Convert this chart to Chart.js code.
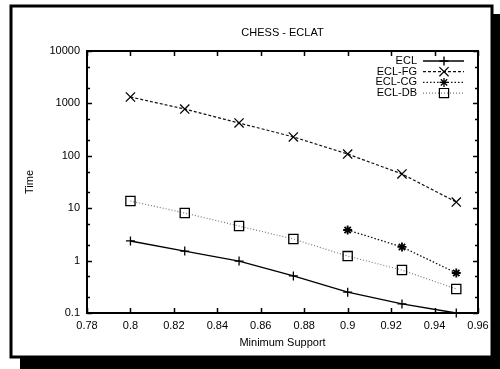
<!DOCTYPE html>
<html><head><meta charset="utf-8">
<script src="https://cdn.jsdelivr.net/npm/chart.js@4.4.1/dist/chart.umd.min.js"></script>
<style>html,body{margin:0;padding:0;background:#fff}canvas{display:block}</style>
</head><body>
<canvas id="c" width="500" height="369"></canvas>
<script>
// Minimum support levels on the x axis
const supports = [0.8, 0.825, 0.85, 0.875, 0.9, 0.925, 0.95];
// Running times (log scale) per variant
const ecl   = [2.37, 1.52, 0.98, 0.51, 0.25, 0.149, 0.1];
const eclFG = [1325, 781, 423, 229, 108, 45, 13.1];
const eclCG = [null, null, null, null, 3.84, 1.82, 0.58];
const eclDB = [13.7, 8.1, 4.57, 2.58, 1.22, 0.66, 0.287];
const seriesNames = ['ECL', 'ECL-FG', 'ECL-CG', 'ECL-DB'];

const xTickValues = [0.78, 0.8, 0.82, 0.84, 0.86, 0.88, 0.9, 0.92, 0.94, 0.96];
const xTickLabels = ['0.78', '0.8', '0.82', '0.84', '0.86', '0.88', '0.9', '0.92', '0.94', '0.96'];
const yTickValues = [0.1, 1, 10, 100, 1000, 10000];
const yTickLabels = ['0.1', '1', '10', '100', '1000', '10000'];
const yMinorSteps = [2, 5];

const FONT = '11px "Liberation Sans", Arial, sans-serif';

function points(vals) {
  const out = [];
  vals.forEach((v, i) => { if (v !== null) out.push({x: supports[i], y: v}); });
  return out;
}

const styles = [
  {color: '#000', dash: [], width: 1.4, point: 'cross', radius: 4.5, pw: 1.3},
  {color: '#111', dash: [3, 2], width: 1.2, point: 'crossRot', radius: 6.5, pw: 1.3},
  {color: '#111', dash: [1.5, 2], width: 1.3, point: 'star', radius: 4.5, pw: 1.8},
  {color: '#777', dash: [1, 2], width: 1.2, point: 'rect', radius: 6.5, pw: 1.3}
];
const allSeries = [ecl, eclFG, eclCG, eclDB];

const datasets = allSeries.map((vals, i) => ({
  label: seriesNames[i],
  data: points(vals),
  borderColor: styles[i].color,
  borderWidth: styles[i].width,
  borderDash: styles[i].dash,
  pointStyle: styles[i].point,
  pointRadius: styles[i].radius,
  pointBorderColor: '#000',
  pointBorderWidth: styles[i].pw,
  pointBackgroundColor: 'rgba(0,0,0,0)',
  fill: false,
  tension: 0,
  clip: 12
}));

const framePlugin = {
  id: 'frame',
  beforeDraw(chart) {
    const ctx = chart.ctx;
    ctx.save();
    ctx.fillStyle = '#fff';
    ctx.fillRect(0, 0, 500, 369);
    // drop shadow
    ctx.fillStyle = '#000';
    ctx.fillRect(20, 357, 480, 12);
    ctx.fillRect(492, 14, 8, 355);
    // frame
    ctx.strokeStyle = '#000';
    ctx.lineWidth = 3;
    ctx.strokeRect(11, 6, 481, 351);
    ctx.restore();
  },
  beforeDatasetsDraw(chart) {
    const ctx = chart.ctx;
    const {left, right, top, bottom} = chart.chartArea;
    const xs = chart.scales.x, ys = chart.scales.y;
    ctx.save();
    ctx.strokeStyle = '#000';
    ctx.lineWidth = 1.5;
    ctx.beginPath();
    // x major ticks, bottom and top
    xTickValues.forEach(v => {
      const px = Math.round(xs.getPixelForValue(v)) + 0.5;
      ctx.moveTo(px, bottom); ctx.lineTo(px, bottom - 5);
      ctx.moveTo(px, top); ctx.lineTo(px, top + 5);
    });
    // y major and minor ticks, left and right
    yTickValues.forEach(v => {
      const py = Math.round(ys.getPixelForValue(v)) + 0.5;
      ctx.moveTo(left, py); ctx.lineTo(left + 5, py);
      ctx.moveTo(right, py); ctx.lineTo(right - 5, py);
      if (v < 10000) {
        yMinorSteps.forEach(m => {
          const my = Math.round(ys.getPixelForValue(v * m)) + 0.5;
          ctx.moveTo(left, my); ctx.lineTo(left + 3, my);
          ctx.moveTo(right, my); ctx.lineTo(right - 3, my);
        });
      }
    });
    ctx.stroke();
    ctx.lineWidth = 2;
    ctx.strokeRect(left, top, right - left, bottom - top);

    // tick labels
    ctx.fillStyle = '#000';
    ctx.font = FONT;
    ctx.textAlign = 'center';
    ctx.textBaseline = 'middle';
    xTickValues.forEach((v, i) => {
      ctx.fillText(xTickLabels[i], xs.getPixelForValue(v), bottom + 13);
    });
    ctx.textAlign = 'right';
    yTickValues.forEach((v, i) => {
      ctx.fillText(yTickLabels[i], left - 7, ys.getPixelForValue(v));
    });
    // titles
    ctx.textAlign = 'center';
    ctx.fillText('Minimum Support', (left + right) / 2, bottom + 30);
    ctx.fillText('CHESS - ECLAT', (left + right) / 2, 33);
    ctx.save();
    ctx.translate(30, (top + bottom) / 2);
    ctx.rotate(-Math.PI / 2);
    ctx.fillText('Time', 0, 0);
    ctx.restore();
    ctx.restore();
  },
  afterDatasetsDraw(chart) {
    // key in the upper right corner
    const ctx = chart.ctx;
    ctx.save();
    ctx.font = FONT;
    ctx.textAlign = 'right';
    ctx.textBaseline = 'middle';
    chart.data.datasets.forEach((ds, i) => {
      const y = 61 + i * 10.7;
      ctx.fillStyle = '#000';
      ctx.fillText(ds.label, 417, y);
      ctx.strokeStyle = ds.borderColor;
      ctx.lineWidth = ds.borderWidth;
      ctx.setLineDash(ds.borderDash);
      ctx.beginPath();
      ctx.moveTo(423, y); ctx.lineTo(464, y);
      ctx.stroke();
      ctx.setLineDash([]);
      ctx.strokeStyle = '#000';
      ctx.fillStyle = 'rgba(0,0,0,0)';
      Chart.helpers.drawPoint(ctx, {
        pointStyle: ds.pointStyle, radius: ds.pointRadius, rotation: 0, borderWidth: ds.pointBorderWidth
      }, 444, y);
    });
    ctx.restore();
  }
};

new Chart(document.getElementById('c'), {
  type: 'line',
  data: {datasets},
  options: {
    responsive: false,
    animation: false,
    devicePixelRatio: 1,
    layout: {padding: {left: 87, right: 22, top: 51, bottom: 56}},
    plugins: {legend: {display: false}, tooltip: {enabled: false}, title: {display: false}},
    scales: {
      x: {type: 'linear', min: 0.78, max: 0.96, display: false},
      y: {type: 'logarithmic', min: 0.1, max: 10000, display: false}
    }
  },
  plugins: [framePlugin]
});
</script>
</body></html>
